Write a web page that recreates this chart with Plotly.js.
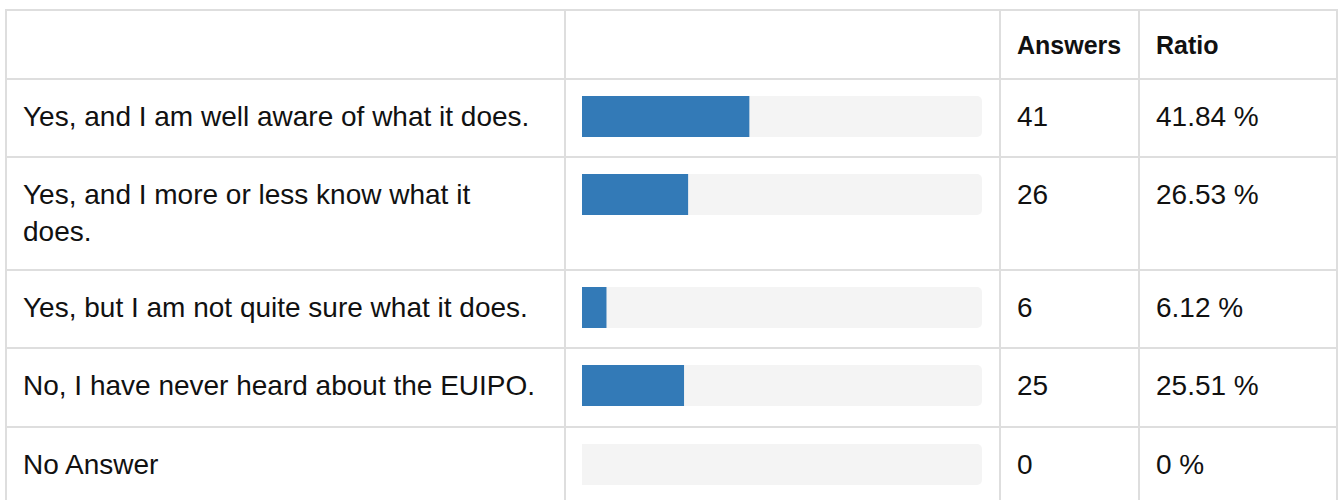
<!DOCTYPE html>
<html>
<head>
<meta charset="utf-8">
<script src="https://cdn.plot.ly/plotly-3.0.1.min.js"></script>
<style>
  html, body { margin: 0; padding: 0; background: #fff; }
  #chart { width: 1338px; height: 500px; }
</style>
</head>
<body>
<div id="chart"></div>
<script>
// ---- data ----
const categories = [
  "Yes, and I am well aware of what it does.",
  "Yes, and I more or less know what it<br>does.",
  "Yes, but I am not quite sure what it does.",
  "No, I have never heard about the EUIPO.",
  "No Answer"
];
const answers = [41, 26, 6, 25, 0];
const ratios = [41.84, 26.53, 6.12, 25.51, 0];
const ratioLabels = ["41.84 %", "26.53 %", "6.12 %", "25.51 %", "0 %"];
const headers = ["", "", "Answers", "Ratio"];

// ---- layout constants (pixels) ----
const W = 1338, H = 500;
const tableTop = 10;
const rowHeights = [69, 78, 113, 78, 79, 79];   // header + 5 data rows
const colX = [6, 565, 1000, 1139, 1337];          // vertical borders
const padX = 15;
const lineH = 37;
const barTopPad = 17, barH = 41;
const trackLeft = 582, trackRight = 982;
const gridColor = "#dedede";
const FONT = "'Liberation Sans', Arial, Helvetica, sans-serif";
const textColor = "#111111";
const bodySize = 28, headSize = 25;

const rowTops = [];
let acc = tableTop;
rowHeights.forEach(h => { rowTops.push(acc); acc += h; });

const dataRowTops = rowTops.slice(1);
const barCenters = dataRowTops.map(t => t + barTopPad + barH / 2);

const px = x => x / W;

// ---- traces ----
const track = {
  type: "bar", orientation: "h",
  x: categories.map(() => 100),
  y: barCenters,
  width: categories.map(() => barH),
  marker: { color: "#f4f4f4", cornerradius: 5, line: { width: 0 } },
  hoverinfo: "skip"
};
const bars = {
  type: "bar", orientation: "h",
  x: ratios,
  y: barCenters,
  width: categories.map(() => barH),
  marker: { color: "#337ab7", line: { width: 0 } },
  hoverinfo: "skip"
};

// ---- grid shapes ----
const shapes = [];
rowTops.slice(0, 6).forEach(t => shapes.push({
  type: "line", xref: "paper", yref: "y",
  x0: px(colX[0] - 1), x1: px(colX[colX.length - 1] + 1), y0: t, y1: t,
  line: { color: gridColor, width: 2 }, layer: "below"
}));
colX.forEach(x => shapes.push({
  type: "line", xref: "paper", yref: "y",
  x0: px(x), x1: px(x), y0: tableTop - 1, y1: H + 5,
  line: { color: gridColor, width: 2 }, layer: "below"
}));

// ---- annotations ----
const annotations = [];
function addText(text, x, y, bold) {
  annotations.push({
    text: bold ? "<b>" + text + "</b>" : text,
    xref: "paper", yref: "y", x: px(x), y: y,
    xanchor: "left", yanchor: "middle", align: "left",
    showarrow: false,
    font: { family: FONT, size: bold ? headSize : bodySize, color: textColor }
  });
}
// header
const headerMid = rowTops[0] + rowHeights[0] / 2;
headers.forEach((h, i) => { if (h) addText(h, colX[i] + padX, headerMid, true); });
// rows
categories.forEach((c, i) => {
  const lines = c.split("<br>");
  const y0 = barCenters[i];
  lines.forEach((ln, j) => addText(ln, colX[0] + padX, y0 + j * lineH, false));
  addText(String(answers[i]), colX[2] + padX, y0, false);
  addText(ratioLabels[i], colX[3] + padX, y0, false);
});

const layout = {
  width: W, height: H,
  margin: { l: 0, r: 0, t: 0, b: 0, pad: 0 },
  paper_bgcolor: "#fff", plot_bgcolor: "rgba(0,0,0,0)",
  barmode: "overlay",
  showlegend: false,
  hovermode: false,
  xaxis: {
    domain: [px(trackLeft), px(trackRight)],
    range: [0, 100], visible: false, fixedrange: true
  },
  yaxis: {
    range: [H, 0], visible: false, fixedrange: true
  },
  shapes: shapes,
  annotations: annotations
};

Plotly.newPlot("chart", [track, bars], layout, { displayModeBar: false, staticPlot: true });
</script>
</body>
</html>
